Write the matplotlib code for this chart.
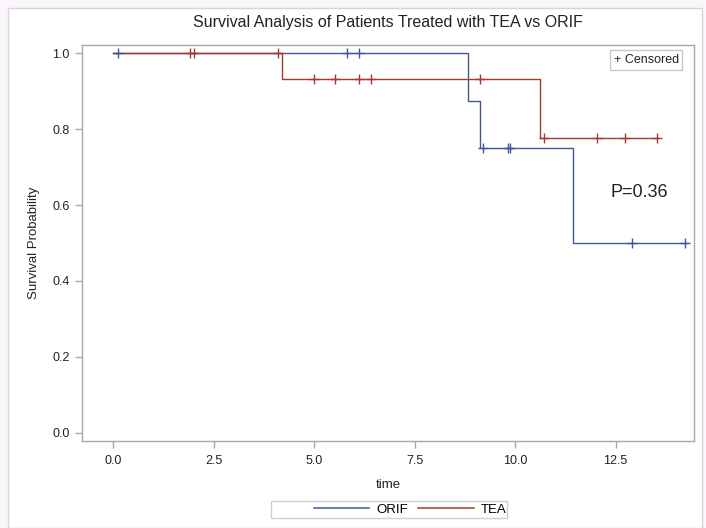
import numpy as np
import matplotlib
matplotlib.use("Agg")
import matplotlib.pyplot as plt
from matplotlib.lines import Line2D
from matplotlib.patches import Rectangle

plt.rcParams['font.family'] = ['Liberation Sans', 'DejaVu Sans']

# ---- data ----
groups = ["ORIF", "TEA"]
orif_event_times = [8.82, 9.12, 11.43]
orif_surv = [1.0, 0.875, 0.75, 0.5]
orif_censor_times = [0.11, 5.81, 6.11, 9.19, 9.81, 9.87, 12.91, 14.22]
orif_end = 14.27

tea_event_times = [4.20, 10.62]
tea_surv = [1.0, 0.933, 0.778]
tea_censor_times = [1.90, 2.00, 4.09, 4.99, 5.52, 6.11, 6.41, 9.12, 10.72, 12.03, 12.73, 13.52]
tea_end = 13.55

x_ticks = [0.0, 2.5, 5.0, 7.5, 10.0, 12.5]
y_ticks = [0.0, 0.2, 0.4, 0.6, 0.8, 1.0]
p_text = "P=0.36"

colors = {"ORIF": "#445694", "TEA": "#A23A2E"}

W, H = 706, 528
fig = plt.figure(figsize=(W / 100, H / 100), dpi=100)
fig.patch.set_facecolor("#fbf6fb")
fig.patches.append(Rectangle((8 / W, 0), (702 - 8) / W, (H - 8) / H, transform=fig.transFigure,
                             facecolor="white", edgecolor="#d6d6d6", linewidth=1, zorder=-1))

ax = fig.add_axes([82 / W, 1 - 440.7 / H, (694 - 82) / W, (440.7 - 45) / H])
ax.set_zorder(2)
ax.set_xlim(-0.78, 14.45)
ax.set_ylim(-0.021, 1.022)

def draw(name, ev, surv, cens, end):
    xs = [0.0] + list(ev) + [end]
    ys = list(surv) + [surv[-1]]
    ax.step(xs, ys, where="post", color=colors[name], lw=1.0, zorder=3)
    idx = np.searchsorted(np.array(ev), np.array(cens), side="right")
    cy = np.array(surv)[idx]
    ax.plot(cens, cy, linestyle="none", marker="+", markersize=6.5, mew=1.0,
            color=colors[name], zorder=4)

draw("ORIF", orif_event_times, orif_surv, orif_censor_times, orif_end)
draw("TEA", tea_event_times, tea_surv, tea_censor_times, tea_end)

ax.set_xticks(x_ticks)
ax.set_xticklabels([f"{v:.1f}" for v in x_ticks])
ax.set_yticks(y_ticks)
ax.set_yticklabels([f"{v:.1f}" for v in y_ticks])
for s in ax.spines.values():
    s.set_color("#a8a8a8")
    s.set_linewidth(1)
ax.tick_params(axis="both", colors="#a8a8a8", labelcolor="#222222", labelsize=9, length=5, width=1)
ax.tick_params(axis="x", pad=5)
ax.tick_params(axis="y", pad=4)

ax.set_xlabel("time", fontsize=9.5, color="#222222", labelpad=9)
ax.set_ylabel("Survival Probability", fontsize=9.5, color="#222222", labelpad=9)
fig.text(388 / W, 1 - 22 / H, "Survival Analysis of Patients Treated with TEA vs ORIF",
         ha="center", va="center", fontsize=11.5, color="#222222")

ax.text(12.36, 0.633, p_text, fontsize=13, ha="left", va="center", color="#222222")

# censored inset legend
ax.text(0.975, 0.977, "+ Censored", transform=ax.transAxes, ha="right", va="top", fontsize=9,
        color="#222222",
        bbox=dict(boxstyle="square,pad=0.3", facecolor="white", edgecolor="#c8c8c8", linewidth=1))

# bottom legend
fig.patches.append(Rectangle((271 / W, 1 - 518 / H), (507 - 271) / W, (518 - 501) / H,
                             transform=fig.transFigure, facecolor="white",
                             edgecolor="#cfcfcf", linewidth=1, zorder=1))
handles = [Line2D([], [], color=colors[g], lw=1.1) for g in groups]
leg = fig.legend(handles, groups, loc="center left", bbox_to_anchor=(314 / W, 1 - 509.5 / H),
                 ncol=2, frameon=False, fontsize=9.5, handlelength=4.2, handletextpad=0.5,
                 columnspacing=0.8, borderpad=0, borderaxespad=0)

fig.savefig("out.png", dpi=100)
